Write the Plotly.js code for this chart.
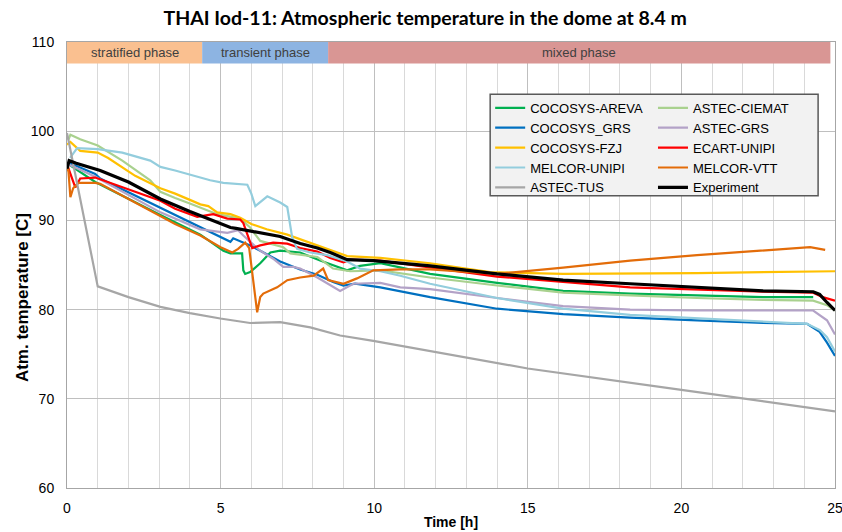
<!DOCTYPE html>
<html><head><meta charset="utf-8">
<script src="https://cdn.plot.ly/plotly-3.0.1.min.js"></script>
<style>html,body{margin:0;padding:0;background:#fff}#chart{width:842px;height:532px}</style>
</head><body><div id="chart"></div>
<script>
// ---- data ----
const tAreva = [0.04, 0.92, 3.04, 4.34, 5.09, 5.32, 5.70, 5.74, 5.80, 5.96, 6.29, 6.62, 6.94, 7.59, 8.24, 9.12, 9.54, 10.2, 11.82, 14.0, 16.15, 18.33, 20.51, 22.66, 24.29];
const vAreva = [96.3, 94.3, 90.6, 88.4, 86.6, 86.3, 86.3, 84.4, 84.0, 84.2, 85.2, 86.4, 86.6, 86.4, 85.5, 84.4, 84.9, 85.2, 84.0, 83.0, 82.1, 81.8, 81.6, 81.4, 81.4];

const tCiemat = [0.04, 0.11, 0.43, 1.0, 1.8, 2.71, 3.04, 3.52, 4.0, 4.89, 5.64, 5.96, 6.29, 7.04, 7.27, 8.15, 8.66, 9.22, 10.2, 11.82, 14.0, 16.15, 18.33, 20.51, 22.66, 24.29, 24.74, 25.0];
const vCiemat = [99.0, 99.6, 99.1, 98.4, 96.7, 94.5, 93.2, 92.5, 91.9, 90.7, 90.2, 89.2, 87.7, 87.0, 86.3, 85.9, 84.6, 84.3, 84.4, 83.6, 82.7, 81.9, 81.6, 81.3, 81.1, 81.0, 80.5, 79.9];

const tCocoGrs = [0.04, 0.92, 1.08, 2.71, 3.04, 4.34, 4.99, 5.32, 5.41, 5.96, 6.29, 6.94, 7.59, 8.15, 8.66, 9.0, 9.38, 10.2, 11.82, 14.0, 16.15, 18.33, 20.51, 22.66, 24.09, 24.5, 24.74, 25.0];
const vCocoGrs = [96.5, 95.2, 94.7, 92.0, 91.4, 89.3, 88.2, 87.6, 88.0, 87.2, 86.6, 85.4, 84.5, 83.9, 83.1, 82.7, 82.9, 82.5, 81.4, 80.1, 79.5, 79.1, 78.8, 78.5, 78.4, 77.5, 76.3, 74.8];

const tAstecGrs = [0.04, 0.92, 3.04, 4.34, 5.22, 5.57, 5.74, 6.29, 6.71, 7.04, 7.36, 7.59, 8.15, 8.89, 9.32, 10.2, 10.85, 11.82, 14.0, 16.15, 18.33, 20.51, 24.29, 24.74, 25.0];
const vAstecGrs = [96.3, 94.9, 90.9, 89.0, 88.6, 88.9, 88.3, 86.6, 85.7, 84.8, 84.8, 84.6, 83.6, 82.1, 82.9, 83.0, 82.5, 82.3, 81.3, 80.4, 80.0, 79.9, 79.9, 78.8, 77.2];

const tFzj = [0.0, 0.11, 0.43, 1.0, 1.34, 2.22, 3.04, 3.52, 4.0, 4.34, 4.6, 4.89, 5.32, 5.64, 6.0, 6.5, 7.17, 8.15, 9.12, 10.2, 11.82, 13.77, 16.15, 20.51, 25.0];
const vFzj = [98.5, 98.8, 97.8, 97.6, 97.0, 95.0, 93.6, 93.0, 92.3, 91.8, 91.6, 90.9, 90.7, 90.3, 89.6, 89.0, 88.4, 87.2, 86.0, 85.8, 85.2, 84.2, 84.0, 84.1, 84.3];

const tEcart = [0.0, 0.04, 0.27, 0.43, 0.92, 2.0, 3.04, 3.52, 4.24, 4.57, 4.76, 5.22, 5.64, 5.74, 6.03, 6.29, 6.71, 7.17, 7.59, 8.15, 8.57, 9.0, 9.22, 10.2, 11.82, 14.0, 18.33, 22.66, 24.29, 24.6, 25.0];
const vEcart = [96.0, 95.9, 93.7, 94.7, 94.8, 93.5, 92.2, 91.3, 90.4, 90.6, 90.7, 90.2, 90.1, 89.7, 86.9, 87.2, 87.5, 87.4, 86.9, 86.5, 85.8, 85.3, 85.6, 85.5, 84.7, 83.7, 82.5, 82.0, 81.9, 81.4, 81.0];

const tMelUnipi = [0.1, 0.33, 1.0, 1.8, 2.71, 3.04, 3.52, 4.34, 4.66, 5.09, 5.87, 6.0, 6.13, 6.52, 6.94, 7.17, 7.33, 7.49, 7.92, 8.47, 9.12, 9.54, 10.2, 10.85, 11.82, 14.0, 16.15, 18.33, 20.51, 22.66, 24.09, 24.51, 24.74, 25.0];
const vMelUnipi = [97.0, 98.1, 98.0, 97.6, 96.7, 96.0, 95.6, 94.8, 94.5, 94.2, 94.0, 93.0, 91.6, 92.7, 92.0, 91.5, 88.1, 86.8, 86.4, 86.1, 85.4, 84.6, 84.3, 83.8, 82.9, 81.3, 80.1, 79.4, 79.0, 78.6, 78.4, 77.7, 76.9, 75.3];

const tMelVtt = [0.0, 0.04, 0.11, 0.2, 0.37, 0.92, 1.08, 3.04, 3.52, 4.34, 5.0, 5.38, 5.57, 5.8, 5.93, 6.06, 6.19, 6.29, 6.39, 6.84, 7.17, 7.59, 8.03, 8.34, 8.5, 9.0, 9.44, 9.97, 10.85, 11.82, 14.0, 16.15, 18.33, 20.51, 22.66, 24.19, 24.68];
const vMelVtt = [95.5, 95.9, 92.6, 93.6, 94.2, 94.2, 94.1, 90.5, 89.6, 88.3, 87.0, 86.4, 86.8, 87.5, 86.9, 83.3, 79.7, 81.4, 81.8, 82.5, 83.3, 83.6, 83.8, 84.6, 83.3, 82.9, 83.5, 84.4, 84.5, 84.5, 84.0, 84.7, 85.5, 86.1, 86.6, 87.0, 86.7];

const tTus = [0.0, 1.0, 2.0, 3.04, 4.0, 4.99, 5.96, 6.94, 7.92, 8.89, 9.97, 15.0, 20.0, 25.0];
const vTus = [99.8, 82.6, 81.4, 80.3, 79.6, 79.0, 78.5, 78.6, 78.0, 77.1, 76.5, 73.4, 71.0, 68.6];

const tExp = [0.0, 0.07, 0.3, 1.08, 2.0, 3.04, 4.0, 5.0, 5.32, 5.5, 6.0, 6.5, 6.94, 7.59, 8.15, 8.57, 9.12, 9.97, 10.85, 11.82, 14.0, 16.15, 18.33, 20.51, 22.66, 24.29, 24.5, 24.74, 25.0];
const vExp = [95.8, 96.7, 96.4, 95.6, 94.3, 92.4, 91.0, 89.6, 89.2, 89.1, 88.8, 88.5, 88.2, 87.4, 86.9, 86.4, 85.6, 85.5, 85.2, 84.9, 84.0, 83.3, 82.9, 82.5, 82.1, 82.0, 81.7, 80.8, 79.9];

const phaseNames = ['stratified phase', 'transient phase', 'mixed phase'];
const phaseStart = [0, 4.4, 8.5];
const phaseEnd = [4.4, 8.5, 24.85];

const xTicks = [0, 5, 10, 15, 20, 25];
const yTicks = [60, 70, 80, 90, 100, 110];

// ---- styling ----
const phaseColors = ['#FAC090', '#8DB4E2', '#D99694'];
const series = [
  {name: 'COCOSYS-AREVA', t: tAreva, v: vAreva, color: '#00B050', legend: 'legend'},
  {name: 'ASTEC-CIEMAT', t: tCiemat, v: vCiemat, color: '#A9D18E', legend: 'legend2'},
  {name: 'COCOSYS_GRS', t: tCocoGrs, v: vCocoGrs, color: '#0070C0', legend: 'legend'},
  {name: 'ASTEC-GRS', t: tAstecGrs, v: vAstecGrs, color: '#B3A2C7', legend: 'legend2'},
  {name: 'COCOSYS-FZJ', t: tFzj, v: vFzj, color: '#FFC000', legend: 'legend'},
  {name: 'ECART-UNIPI', t: tEcart, v: vEcart, color: '#FF0000', legend: 'legend2'},
  {name: 'MELCOR-UNIPI', t: tMelUnipi, v: vMelUnipi, color: '#93CDDD', legend: 'legend'},
  {name: 'MELCOR-VTT', t: tMelVtt, v: vMelVtt, color: '#E36C09', legend: 'legend2'},
  {name: 'ASTEC-TUS', t: tTus, v: vTus, color: '#A6A6A6', legend: 'legend'},
  {name: 'Experiment', t: tExp, v: vExp, color: '#000000', legend: 'legend2', width: 3.2}
];

const traces = series.map(s => ({
  type: 'scatter', mode: 'lines', name: s.name, x: s.t, y: s.v,
  line: {color: s.color, width: s.width || 2.2},
  legend: s.legend
}));

const shapes = phaseNames.map((n, i) => ({
  type: 'rect', xref: 'x', yref: 'y', x0: phaseStart[i], x1: phaseEnd[i], y0: 107.6, y1: 110,
  fillcolor: phaseColors[i], line: {width: 0}, layer: 'above'
}));
shapes.push({
  type: 'rect', xref: 'paper', yref: 'paper', x0: 0.551, x1: 0.978, y0: 0.655, y1: 0.883,
  fillcolor: '#F2F2F2', line: {color: '#595959', width: 1.5}, layer: 'above'
});

const annotations = phaseNames.map((n, i) => ({
  xref: 'x', yref: 'y', x: (phaseStart[i] + phaseEnd[i]) / 2, y: 108.8, text: n,
  showarrow: false, font: {family: 'Liberation Sans, Arial, sans-serif', size: 13, color: '#404040'}
}));
annotations.push({
  xref: 'paper', yref: 'paper', x: -0.0586, y: 0.428, xanchor: 'center', yanchor: 'middle',
  textangle: -90, showarrow: false, text: '<b>Atm. temperature [C]</b>',
  font: {family: 'Liberation Sans, Arial, sans-serif', size: 17, color: '#000'}
});

const legendBase = {
  orientation: 'v', bgcolor: 'rgba(0,0,0,0)', borderwidth: 0,
  font: {family: 'Liberation Sans, Arial, sans-serif', size: 13, color: '#000'},
  xanchor: 'left', yanchor: 'top', y: 0.886, traceorder: 'normal'
};

const layout = {
  width: 842, height: 532,
  margin: {l: 67, r: 7, t: 42, b: 44},
  paper_bgcolor: '#fff', plot_bgcolor: '#fff',
  title: {
    text: '<b>THAI Iod-11: Atmospheric temperature in the dome at 8.4 m</b>',
    font: {family: 'Lato, Open Sans, sans-serif', size: 19.5, color: '#000'},
    x: 0.505, xanchor: 'center', y: 0.966, yanchor: 'middle', xref: 'container', yref: 'container'
  },
  xaxis: {
    range: [0, 25], tickvals: xTicks, ticktext: xTicks.map(String),
    showgrid: true, gridcolor: '#BFBFBF', gridwidth: 1,
    minor: {dtick: 1, showgrid: true, gridcolor: '#D9D9D9', gridwidth: 1},
    zeroline: false, showline: true, linecolor: '#A6A6A6', linewidth: 1, mirror: true,
    ticks: 'outside', ticklen: 7, tickcolor: 'rgba(0,0,0,0)', ticklabeloverflow: 'allow',
    tickfont: {family: 'Liberation Sans, Arial, sans-serif', size: 14, color: '#000'},
    title: {text: '<b>Time [h]</b>', font: {family: 'Liberation Sans, Arial, sans-serif', size: 14, color: '#000'}, standoff: 2}
  },
  yaxis: {
    range: [60, 110], tickvals: yTicks, ticktext: yTicks.map(String),
    showgrid: true, gridcolor: '#BFBFBF', gridwidth: 1,
    zeroline: false, showline: true, linecolor: '#A6A6A6', linewidth: 1, mirror: true,
    ticks: 'outside', ticklen: 9, tickcolor: 'rgba(0,0,0,0)',
    tickfont: {family: 'Liberation Sans, Arial, sans-serif', size: 14, color: '#000'}
  },
  legend: Object.assign({}, legendBase, {x: 0.551}),
  legend2: Object.assign({}, legendBase, {x: 0.763}),
  shapes: shapes,
  annotations: annotations,
  showlegend: true
};

Plotly.newPlot('chart', traces, layout, {displayModeBar: false, staticPlot: true});
</script></body></html>
